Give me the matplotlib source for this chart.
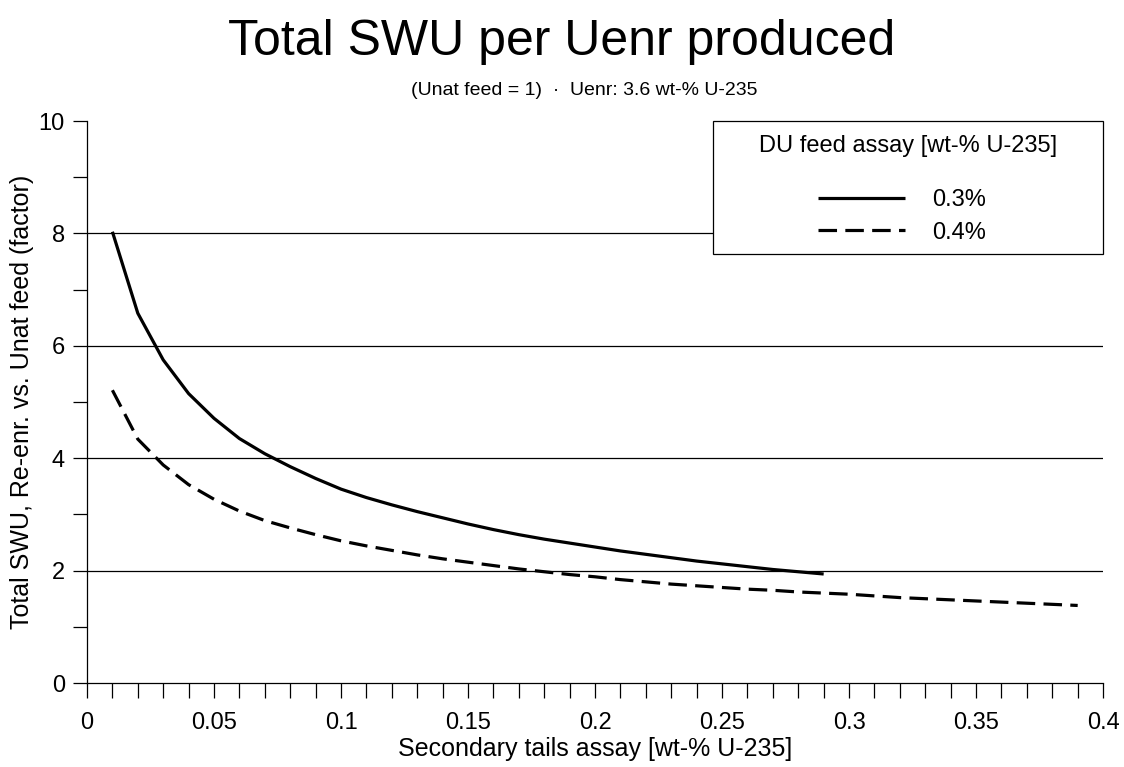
import matplotlib
matplotlib.use("Agg")
import matplotlib.pyplot as plt
from matplotlib.patches import Rectangle

plt.rcParams['font.family'] = ['Liberation Sans', 'DejaVu Sans']

# secondary tails assay [wt-% U-235]
tails_03 = [0.01, 0.02, 0.03, 0.04, 0.05, 0.06, 0.07, 0.08, 0.09, 0.10,
            0.11, 0.12, 0.13, 0.14, 0.15, 0.16, 0.17, 0.18, 0.19, 0.20,
            0.21, 0.22, 0.23, 0.24, 0.25, 0.26, 0.27, 0.28, 0.29]
swu_03 = [8.03, 6.58, 5.75, 5.15, 4.71, 4.35, 4.08, 3.85, 3.64, 3.45,
          3.30, 3.17, 3.05, 2.94, 2.83, 2.73, 2.64, 2.56, 2.49, 2.42,
          2.35, 2.29, 2.23, 2.17, 2.12, 2.07, 2.02, 1.98, 1.94]

tails_04 = [0.01, 0.02, 0.03, 0.04, 0.05, 0.06, 0.07, 0.08, 0.09, 0.10,
            0.11, 0.12, 0.13, 0.14, 0.15, 0.16, 0.17, 0.18, 0.19, 0.20,
            0.21, 0.22, 0.23, 0.24, 0.25, 0.26, 0.27, 0.28, 0.29, 0.30,
            0.31, 0.32, 0.33, 0.34, 0.35, 0.36, 0.37, 0.38, 0.39]
swu_04 = [5.21, 4.34, 3.88, 3.53, 3.27, 3.06, 2.89, 2.76, 2.64, 2.53,
          2.44, 2.36, 2.28, 2.21, 2.15, 2.09, 2.03, 1.98, 1.93, 1.89,
          1.84, 1.80, 1.76, 1.73, 1.70, 1.67, 1.65, 1.62, 1.60, 1.58,
          1.55, 1.52, 1.50, 1.48, 1.46, 1.44, 1.42, 1.40, 1.38]

series_labels = ['0.3%', '0.4%']
xticks = [0, 0.05, 0.1, 0.15, 0.2, 0.25, 0.3, 0.35, 0.4]
xticklabels = ['0', '0.05', '0.1', '0.15', '0.2', '0.25', '0.3', '0.35', '0.4']
yticks = [0, 2, 4, 6, 8, 10]

fig = plt.figure(figsize=(11.24, 7.67), dpi=100)
ax = fig.add_axes([0.0774, 0.1095, 0.904, 0.7327])

for y in [2, 4, 6, 8]:
    ax.axhline(y, color='black', lw=0.9, zorder=1)

ax.plot(tails_03, swu_03, color='black', lw=2.3, solid_capstyle='butt',
        label=series_labels[0], zorder=3)
ax.plot(tails_04, swu_04, color='black', lw=2.3, dashes=(5.8, 2.6),
        dash_capstyle='butt', label=series_labels[1], zorder=3)

ax.set_xlim(0, 0.4)
ax.set_ylim(0, 10)
ax.set_xticks(xticks)
ax.set_xticklabels(xticklabels)
ax.set_xticks([i / 100 for i in range(41)], minor=True)
ax.set_yticks(yticks)
ax.set_yticks([1, 3, 5, 7, 9], minor=True)
ax.tick_params(axis='x', which='both', direction='out', length=11, width=0.9,
               labelsize=17, pad=10)
ax.tick_params(axis='y', which='both', direction='out', length=10, width=0.9,
               labelsize=17, pad=6)
for s in ['top', 'right']:
    ax.spines[s].set_visible(False)
for s in ['left', 'bottom']:
    ax.spines[s].set_linewidth(0.9)

ax.set_xlabel('Secondary tails assay [wt-% U-235]', fontsize=18, labelpad=2)
ax.set_ylabel('Total SWU, Re-enr. vs. Unat feed (factor)', fontsize=18, labelpad=3)

# legend box
ax.add_patch(Rectangle((0.616, 0.763), 0.384, 0.237, transform=ax.transAxes,
                       facecolor='white', edgecolor='black', lw=0.9, zorder=5,
                       clip_on=False))
ax.text(0.808, 0.955, 'DU feed assay [wt-% U-235]', transform=ax.transAxes,
        ha='center', va='center', fontsize=17, zorder=6)
leg = ax.legend(loc='center', bbox_to_anchor=(0.802, 0.8305), frameon=False,
                fontsize=17, handlelength=3.7, handletextpad=1.15,
                labelspacing=0.45, borderpad=0)
leg.set_zorder(6)

fig.text(0.5, 0.945, 'Total SWU per Uenr produced', ha='center', va='center',
         fontsize=36)
fig.text(0.52, 0.882, '(Unat feed = 1)  \u00b7  Uenr: 3.6 wt-% U-235',
         ha='center', va='center', fontsize=14)

fig.savefig('out.png', dpi=100)
